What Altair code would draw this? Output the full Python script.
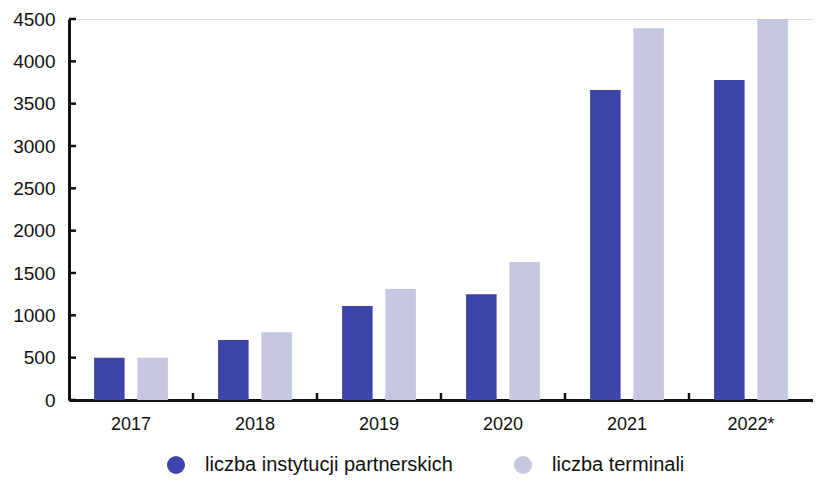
import altair as alt
import pandas as pd

years = ["2017", "2018", "2019", "2020", "2021", "2022*"]
series = ["liczba instytucji partnerskich", "liczba terminali"]
institutions = [500, 710, 1110, 1250, 3660, 3780]
terminals = [500, 800, 1310, 1630, 4390, 4500]
y_ticks = [0, 500, 1000, 1500, 2000, 2500, 3000, 3500, 4000, 4500]
colors = ["#3D45AA", "#C5C6DF"]

rows = []
for i, y in enumerate(years):
    rows.append({"year": y, "series": series[0], "value": institutions[i]})
    rows.append({"year": y, "series": series[1], "value": terminals[i]})
df = pd.DataFrame(rows)
ticks_df = pd.DataFrame({"v": y_ticks})
years_df = pd.DataFrame({"year": years[1:]})

FONT = "Liberation Sans"
H = 381
W = 744
TOP = 11

x_scale = alt.Scale(domain=years, paddingInner=0, paddingOuter=0)
y_scale = alt.Scale(domain=[0, 4500], nice=False)

bars = alt.Chart(df).mark_bar().encode(
    x=alt.X("year:N", scale=x_scale, sort=years,
            axis=alt.Axis(title=None, labelAngle=0, ticks=False, labelPadding=15,
                          labelFontSize=18, labelFont=FONT, labelColor="#111",
                          domainColor="#111", domainWidth=3)),
    xOffset=alt.XOffset("series:N", sort=series,
                        scale=alt.Scale(domain=series, paddingInner=0.295, paddingOuter=0.58)),
    y=alt.Y("value:Q", scale=y_scale,
            axis=alt.Axis(title=None, values=y_ticks, format="d", ticks=False, grid=False,
                          labelPadding=14, labelFontSize=19, labelFont=FONT, labelColor="#111",
                          domainColor="#111", domainWidth=3)),
    color=alt.Color("series:N", sort=series,
                    scale=alt.Scale(domain=series, range=colors),
                    legend=alt.Legend(title=None, orient="none", direction="horizontal",
                                      legendX=97, legendY=436, padding=0,
                                      symbolType="circle", symbolSize=324, symbolStrokeWidth=0,
                                      symbolOpacity=1, labelFont=FONT, labelFontSize=20,
                                      labelLimit=400, labelColor="#111", labelOffset=19,
                                      columnPadding=60)),
)

ytick_rules = alt.Chart(ticks_df).mark_rule(color="#111", strokeWidth=2.5).encode(
    y=alt.Y("v:Q", scale=y_scale),
    x=alt.value(0),
    x2=alt.value(7),
)

xtick_rules = alt.Chart(years_df).mark_rule(color="#111", strokeWidth=2.5).encode(
    x=alt.X("year:N", scale=x_scale, bandPosition=0),
    y=alt.value(H),
    y2=alt.value(H - 7),
)

chart = alt.layer(bars, ytick_rules, xtick_rules).properties(
    width=W, height=H,
    autosize=alt.AutoSizeParams(type="none"),
    padding={"left": 61, "top": TOP, "right": 0, "bottom": 471 - TOP - H},
).configure_view(stroke=None).configure(background="white")

chart.save("out.html", embed_options={"renderer": "svg", "actions": False})
